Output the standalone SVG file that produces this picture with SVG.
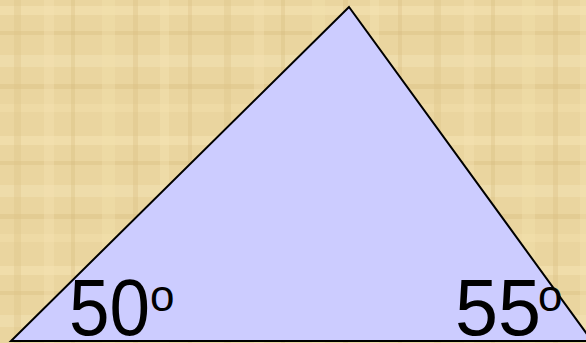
<svg xmlns="http://www.w3.org/2000/svg" width="586" height="343" viewBox="0 0 586 343">
<defs>
<style>
.lbl{font-family:"Liberation Sans",Arial,sans-serif;fill:#000}
.big{font-size:80px}
.sup{font-size:44px}
</style>
<pattern id="pap" width="210" height="130" patternUnits="userSpaceOnUse">
<rect width="210" height="130" fill="#EAD59F"/>
<rect x="0" y="6" width="210" height="9" fill="#F4E3B3" opacity="0.55"/>
<rect x="0" y="31" width="210" height="4" fill="#D9BF82" opacity="0.4"/>
<rect x="0" y="55" width="210" height="12" fill="#F5E5B8" opacity="0.45"/>
<rect x="0" y="84" width="210" height="5" fill="#D6BB7C" opacity="0.35"/>
<rect x="0" y="104" width="210" height="8" fill="#F2DFAC" opacity="0.5"/>
<rect x="14" y="0" width="7" height="130" fill="#DDC387" opacity="0.35"/>
<rect x="44" y="0" width="10" height="130" fill="#F4E2B1" opacity="0.4"/>
<rect x="71" y="0" width="4" height="130" fill="#D6BA7B" opacity="0.3"/>
<rect x="102" y="0" width="13" height="130" fill="#F3E0AD" opacity="0.4"/>
<rect x="133" y="0" width="5" height="130" fill="#D9BD80" opacity="0.35"/>
<rect x="160" y="0" width="9" height="130" fill="#F5E4B5" opacity="0.35"/>
<rect x="188" y="0" width="4" height="130" fill="#D7BC7D" opacity="0.3"/>
</pattern>
</defs>
<rect width="586" height="343" fill="url(#pap)"/>
<g id="triangle">
<polygon points="349,7 11,341 592,341" fill="#CCCCFF" stroke="#000" stroke-width="2" stroke-linejoin="miter"/>
</g>
<g id="angle-left">
<text class="lbl big" x="69" y="335" textLength="81" lengthAdjust="spacingAndGlyphs">50</text>
<text class="lbl sup" x="150" y="311">o</text>
</g>
<g id="angle-right">
<text class="lbl big" x="455" y="335" textLength="86" lengthAdjust="spacingAndGlyphs">55</text>
<text class="lbl sup" x="538" y="311">o</text>
</g>
</svg>
